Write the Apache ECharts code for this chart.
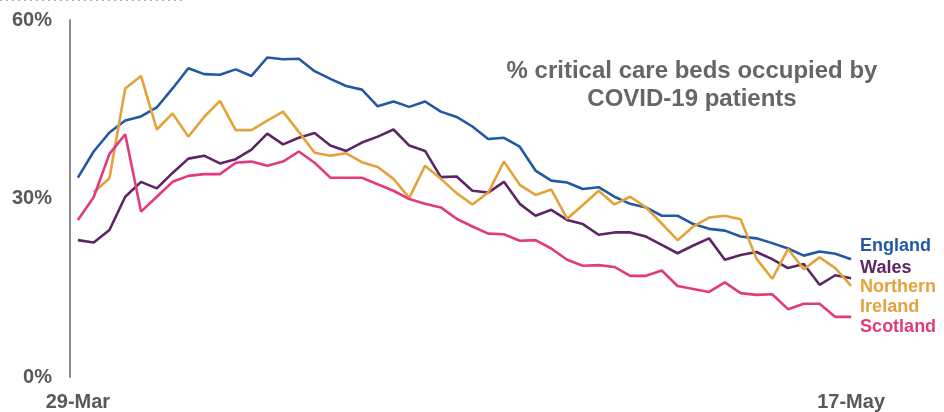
<!DOCTYPE html>
<html>
<head>
<meta charset="utf-8">
<script src="https://cdn.jsdelivr.net/npm/echarts@6/dist/echarts.min.js"></script>
<style>html,body{margin:0;padding:0;background:#fff}#c{width:944px;height:412px}</style>
</head>
<body>
<div id="c"></div>
<script>
// 29-Mar to 17-May (daily)
const categories = (function () {
  const out = [];
  const d = new Date(Date.UTC(2020, 2, 29));
  const m = ['Jan','Feb','Mar','Apr','May','Jun','Jul','Aug','Sep','Oct','Nov','Dec'];
  for (let i = 0; i < 50; i++) {
    out.push(d.getUTCDate() + '-' + m[d.getUTCMonth()]);
    d.setUTCDate(d.getUTCDate() + 1);
  }
  return out;
})();

const england = [33.5,37.9,41.1,43.1,43.8,45.3,48.5,51.9,50.9,50.8,51.7,50.6,53.7,53.4,53.5,51.4,50.1,48.9,48.3,45.5,46.3,45.4,46.3,44.6,43.7,42.1,40.0,40.2,38.7,34.7,33.0,32.7,31.6,31.9,30.3,29.1,28.5,27.1,27.1,25.7,24.9,24.6,23.6,23.3,22.5,21.6,20.4,21.1,20.7,19.8];
const wales = [23.0,22.6,24.7,30.3,32.8,31.7,34.3,36.7,37.2,35.9,36.6,38.2,40.9,39.1,40.2,41.0,38.9,38.0,39.4,40.4,41.6,38.9,38.0,33.6,33.7,31.3,31.0,32.8,29.1,27.1,28.1,26.4,25.7,23.9,24.3,24.3,23.6,22.2,20.8,22.1,23.3,19.7,20.5,21.0,19.8,18.3,19.0,15.5,17.1,16.6];
const northernIreland = [null,31.0,33.4,48.5,50.6,41.6,44.3,40.4,43.7,46.4,41.5,41.5,43.1,44.6,41.2,37.7,37.2,37.6,36.1,35.3,33.3,30.1,35.5,33.3,30.9,29.0,31.0,36.2,32.3,30.6,31.5,26.6,28.9,31.3,29.0,30.3,28.5,25.8,23.0,25.3,26.8,27.1,26.5,19.9,16.5,21.5,18.1,20.1,18.3,15.3];
const scotland = [26.4,30.2,37.5,40.8,27.8,30.3,32.8,33.8,34.1,34.1,36.0,36.2,35.5,36.2,37.9,36.0,33.5,33.5,33.5,32.4,31.3,29.9,29.1,28.5,26.6,25.3,24.1,24.0,22.9,23.0,21.6,19.7,18.7,18.8,18.5,17.0,17.0,17.9,15.3,14.8,14.3,15.9,14.1,13.8,13.9,11.4,12.3,12.3,10.1,10.1];

const seriesNames = ['England', 'Wales', 'Northern\nIreland', 'Scotland'];
const seriesColors = ['#2159A5', '#5E2566', '#E3A33A', '#E23A7D'];
const seriesData = [england, wales, northernIreland, scotland];
const labelOffsets = [[0, -13], [0, -10], [0, 11], [0, 10]];
const yTicks = [0, 30, 60];
const titleText = '% critical care beds occupied by\nCOVID-19 patients';

const chart = echarts.init(document.getElementById('c'), null, {renderer: 'canvas'});
const FONT = '"Liberation Sans", Arial, sans-serif';

chart.setOption({
  animation: false,
  backgroundColor: '#ffffff',
  title: {
    text: titleText,
    left: 692,
    top: 57,
    padding: 0,
    textAlign: 'center',
    textStyle: {
      fontFamily: FONT, fontWeight: 'bold', fontSize: 24, color: '#666666', lineHeight: 28
    }
  },
  grid: {left: 70, right: 85, top: 20, bottom: 35, containLabel: false},
  xAxis: {
    type: 'category',
    data: categories,
    boundaryGap: true,
    axisLine: {show: false},
    axisTick: {show: false},
    splitLine: {show: false},
    axisLabel: {
      interval: function (i) { return i === 0 || i === categories.length - 1; },
      margin: 15,
      fontFamily: FONT, fontWeight: 'bold', fontSize: 20, color: '#595959'
    }
  },
  yAxis: {
    type: 'value',
    min: yTicks[0],
    max: yTicks[yTicks.length - 1],
    interval: 30,
    axisLine: {show: true, lineStyle: {color: '#8c8c8c', width: 2}},
    axisTick: {show: false},
    splitLine: {show: false},
    axisLabel: {
      formatter: '{value}%',
      margin: 18,
      fontFamily: FONT, fontWeight: 'bold', fontSize: 20, color: '#595959'
    }
  },
  graphic: [{
    type: 'line',
    shape: {x1: 0, y1: 0.5, x2: 185, y2: 0.5},
    style: {stroke: '#b0b0b0', lineWidth: 1, lineDash: [2, 4]}
  }],
  series: seriesData.map(function (d, i) {
    return {
      name: seriesNames[i],
      type: 'line',
      data: d,
      symbol: 'none',
      connectNulls: false,
      lineStyle: {color: seriesColors[i], width: 2.6},
      itemStyle: {color: seriesColors[i]},
      endLabel: {
        show: true,
        formatter: seriesNames[i],
        color: seriesColors[i],
        fontFamily: FONT, fontWeight: 'bold', fontSize: 18, lineHeight: 20,
        distance: 9,
        offset: labelOffsets[i]
      }
    };
  })
});
</script>
</body>
</html>
